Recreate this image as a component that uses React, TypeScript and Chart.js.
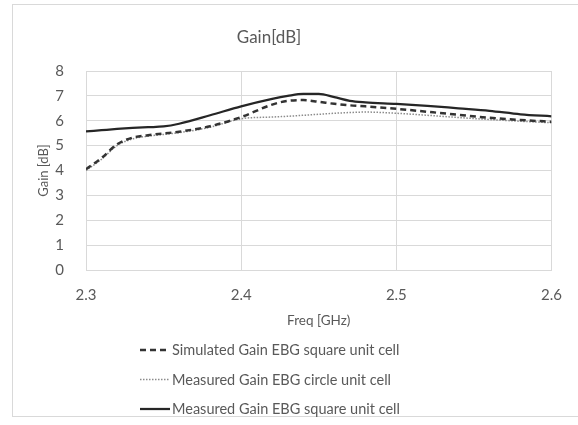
import React, { useEffect, useRef } from "react";
import { Chart, registerables } from "chart.js";

Chart.register(...registerables);

const TITLE = "Gain[dB]";
const X_TITLE = "Freq [GHz)";
const Y_TITLE = "Gain [dB]";

const FREQ = [2.30, 2.31, 2.32, 2.33, 2.34, 2.35, 2.36, 2.38, 2.40, 2.42, 2.43, 2.44, 2.45, 2.46, 2.47, 2.48, 2.50, 2.52, 2.54, 2.56, 2.58, 2.60];
const SIM_SQUARE = [4.05, 4.5, 5.05, 5.32, 5.42, 5.49, 5.56, 5.78, 6.15, 6.65, 6.8, 6.83, 6.76, 6.68, 6.62, 6.58, 6.48, 6.36, 6.24, 6.12, 6.03, 5.96];
const MEAS_CIRCLE = [4.0, 4.45, 5.0, 5.27, 5.38, 5.45, 5.52, 5.74, 6.08, 6.15, 6.18, 6.22, 6.26, 6.3, 6.33, 6.35, 6.3, 6.22, 6.13, 6.05, 5.98, 5.92];
const MEAS_SQUARE = [5.57, 5.62, 5.67, 5.71, 5.74, 5.77, 5.88, 6.22, 6.58, 6.88, 7.0, 7.08, 7.08, 6.95, 6.8, 6.74, 6.68, 6.6, 6.5, 6.4, 6.26, 6.18];

const SERIES_NAMES = [
  "Simulated Gain EBG square unit cell",
  "Measured Gain EBG circle unit cell",
  "Measured Gain EBG square unit cell",
];

const X_MIN = 2.3;
const X_MAX = 2.6;
const Y_MIN = 0;
const Y_MAX = 8;

const FONT = "Lato, 'Open Sans', sans-serif";
const TEXT = "#595959";
const GRID = "#d9d9d9";

const overlayPlugin = {
  id: "overlay",
  afterDraw(chart: any) {
    const ctx = chart.ctx as CanvasRenderingContext2D;
    ctx.save();
    ctx.fillStyle = TEXT;
    ctx.textAlign = "center";
    ctx.textBaseline = "middle";
    ctx.font = `17px ${FONT}`;
    ctx.fillText(TITLE, 269, 38);

    const rowY0 = 350;
    const rowStep = 29.5;
    const lineX0 = 140;
    const lineX1 = 170;
    ctx.font = `14.5px ${FONT}`;
    ctx.textAlign = "left";
    chart.data.datasets.forEach((ds: any, i: number) => {
      const y = rowY0 + i * rowStep;
      ctx.save();
      ctx.strokeStyle = ds.borderColor;
      ctx.lineWidth = ds.borderWidth;
      ctx.setLineDash(ds.borderDash || []);
      ctx.beginPath();
      ctx.moveTo(lineX0, y);
      ctx.lineTo(lineX1, y);
      ctx.stroke();
      ctx.restore();
      ctx.fillStyle = TEXT;
      ctx.fillText(ds.label, lineX1 + 2, y + 0.5);
    });
    ctx.restore();
  },
};

export default function App() {
  const ref = useRef<HTMLCanvasElement>(null);

  useEffect(() => {
    if (!ref.current) return;
    const toPts = (ys: number[]) => FREQ.map((x, i) => ({ x, y: ys[i] }));
    const chart = new Chart(ref.current, {
      type: "line",
      data: {
        datasets: [
          {
            label: SERIES_NAMES[0],
            data: toPts(SIM_SQUARE),
            borderColor: "#333333",
            borderWidth: 2.5,
            borderDash: [6, 4],
            pointRadius: 0,
            cubicInterpolationMode: "monotone",
            fill: false,
          },
          {
            label: SERIES_NAMES[1],
            data: toPts(MEAS_CIRCLE),
            borderColor: "#8c8c8c",
            borderWidth: 1.5,
            borderDash: [1.5, 1.5],
            pointRadius: 0,
            cubicInterpolationMode: "monotone",
            fill: false,
          },
          {
            label: SERIES_NAMES[2],
            data: toPts(MEAS_SQUARE),
            borderColor: "#262626",
            borderWidth: 2.25,
            borderDash: [],
            pointRadius: 0,
            cubicInterpolationMode: "monotone",
            fill: false,
          },
        ],
      },
      options: {
        animation: false,
        responsive: false,
        devicePixelRatio: 1,
        layout: { padding: { left: 32, right: 23, top: 71, bottom: 92 } },
        plugins: {
          legend: { display: false },
          title: { display: false },
          tooltip: { enabled: false },
        },
        scales: {
          x: {
            type: "linear",
            min: X_MIN,
            max: X_MAX,
            afterFit: (s: any) => {
              s.height = 63;
            },
            ticks: {
              stepSize: 0.1,
              padding: 16,
              color: TEXT,
              font: { family: FONT, size: 15 },
              maxRotation: 0,
              callback: (v: any) => Number(v).toFixed(1),
            },
            grid: { color: GRID, drawTicks: false, lineWidth: 1 },
            border: { color: GRID },
            title: {
              display: true,
              text: X_TITLE,
              color: TEXT,
              font: { family: FONT, size: 13.5 },
            },
          },
          y: {
            min: Y_MIN,
            max: Y_MAX,
            afterFit: (s: any) => {
              s.width = 54;
            },
            ticks: {
              stepSize: 1,
              padding: 22,
              color: TEXT,
              font: { family: FONT, size: 15 },
            },
            grid: { color: GRID, drawTicks: false, lineWidth: 1 },
            border: { color: GRID },
            title: {
              display: true,
              text: Y_TITLE,
              color: TEXT,
              font: { family: FONT, size: 13 },
            },
          },
        },
      },
      plugins: [overlayPlugin],
    });
    return () => chart.destroy();
  }, []);

  return (
    <div style={{ position: "absolute", left: 0, top: 0, width: 578, height: 425, background: "#fff", overflow: "hidden" }}>
      <div
        style={{
          position: "absolute",
          left: 12,
          top: 4,
          width: 620,
          height: 413,
          border: `1px solid ${GRID}`,
          boxSizing: "border-box",
        }}
      />
      <canvas ref={ref} width={578} height={425} style={{ position: "absolute", left: 0, top: 0, width: 578, height: 425 }} />
    </div>
  );
}
